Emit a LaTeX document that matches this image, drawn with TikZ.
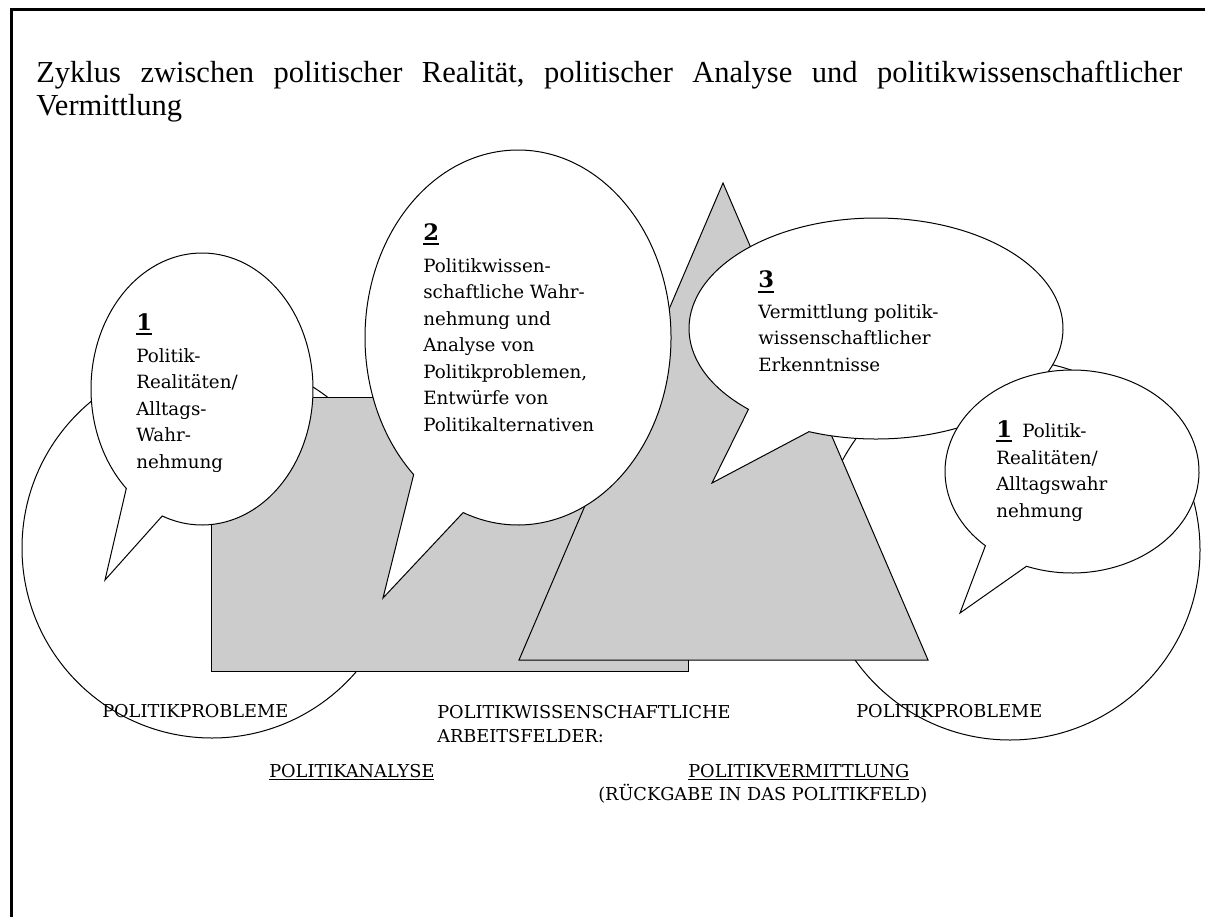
\documentclass[tikz,border=0pt]{standalone}
\usepackage{fontspec}
\setmainfont{Liberation Serif}
\newfontfamily\bubfont{DejaVu Serif}
\definecolor{shapegray}{RGB}{204,204,204}
\newcommand\unum[1]{\vtop{\hbox{\bfseries\fontsize{17pt}{17pt}\selectfont #1}\kern2.6pt\hrule height 1.5pt}}
\newcommand\ulab[1]{\vtop{\hbox{#1}\kern1.6pt\hrule height 0.8pt}}
\tikzset{
  outline/.style={draw=black, line width=0.75pt, line join=miter},
  whiteshape/.style={outline, fill=white},
  grayshape/.style={outline, fill=shapegray},
  bubtext/.style={anchor=base west, inner sep=0pt, font=\bubfont\fontsize{13.7pt}{19.9pt}\selectfont},
  numtext/.style={anchor=base west, inner sep=0pt, font=\bubfont},
  labtext/.style={anchor=base west, inner sep=0pt, font=\bubfont\fontsize{13.3pt}{18pt}\selectfont},
  titletext/.style={anchor=base west, inner sep=0pt, font=\fontsize{22.9pt}{24.75pt}\selectfont},
}
\begin{document}
\begin{tikzpicture}[x=0.75pt, y=-0.75pt]
\useasboundingbox (0,0) rectangle (1205,917);
% frame
\draw[line width=2.25pt] (11.5,917) -- (11.5,10) -- (1205,10);
% title
\node[titletext] (title1) at (36,82) {\hbox to 859.5pt{Zyklus\hfill zwischen\hfill politischer\hfill Realität,\hfill politischer\hfill Analyse\hfill und\hfill politikwissenschaftlicher}};
\node[titletext] (title2) at (36,115) {Vermittlung};
% big circles (politikprobleme)
\path[whiteshape] (212,548) circle [radius=190];
\path[whiteshape] (1010,550) circle [radius=190];
% gray rectangle and triangle
\path[grayshape] (211,397) rectangle (688,671);
\path[grayshape] (723,183) -- (928,660) -- (519,660) -- cycle;
% speech bubbles
\path[whiteshape] (202,389) ++(133:111 and 136)
  arc[start angle=133, end angle=471, x radius=111, y radius=136] -- (105,580) -- cycle;
\path[whiteshape] (518,337.5) ++(133:153 and 187.5)
  arc[start angle=133, end angle=471, x radius=153, y radius=187.5] -- (383,598) -- cycle;
\path[whiteshape] (876,328.5) ++(133:187 and 110.5)
  arc[start angle=133, end angle=471, x radius=187, y radius=110.5] -- (712,483) -- cycle;
\path[whiteshape] (1072,471.5) ++(133:127 and 101.5)
  arc[start angle=133, end angle=471, x radius=127, y radius=101.5] -- (960,613) -- cycle;
% bubble texts
\node[numtext] (n1) at (136,330) {\unum{1}};
\node[bubtext] (t1) at (136,362) {\vtop{\hbox{Politik-}\hbox{Realitäten/}\hbox{Alltags-}\hbox{Wahr-}\hbox{nehmung}}};
\node[numtext] (n2) at (423,240) {\unum{2}};
\node[bubtext] (t2) at (423,272) {\vtop{\hbox{Politikwissen-}\hbox{schaftliche Wahr-}\hbox{nehmung und}\hbox{Analyse von}\hbox{Politikproblemen,}\hbox{Entwürfe von}\hbox{Politikalternativen}}};
\node[numtext] (n3) at (758,287) {\unum{3}};
\node[bubtext] (t3) at (758,318) {\vtop{\hbox{Vermittlung politik-}\hbox{wissenschaftlicher}\hbox{Erkenntnisse}}};
\node[numtext] (n4) at (996,437) {\unum{1}};
\node[bubtext] (t4a) at (1022,437) {Politik-};
\node[bubtext] (t4) at (996,464) {\vtop{\hbox{Realitäten/}\hbox{Alltagswahr}\hbox{nehmung}}};
% bottom labels
\node[labtext] (pp1) at (102,717) {POLITIKPROBLEME};
\node[labtext] (pw) at (437,718) {\vtop{\hbox{POLITIKWISSENSCHAFTLICHE}\hbox{ARBEITSFELDER:}}};
\node[labtext] (pp2) at (856,717) {POLITIKPROBLEME};
\node[labtext] (pa) at (269,777) {\ulab{POLITIKANALYSE}};
\node[labtext] (pv) at (688,777) {\ulab{POLITIKVERMITTLUNG}};
\node[labtext] (rk) at (598,800) {(RÜCKGABE IN DAS POLITIKFELD)};
\end{tikzpicture}
\end{document}
